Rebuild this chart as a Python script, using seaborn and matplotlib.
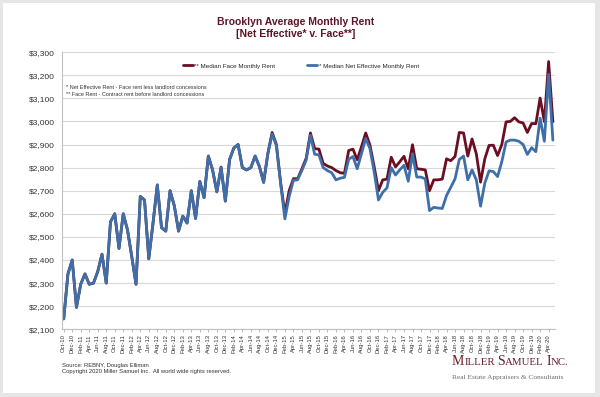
import pandas as pd
import seaborn as sns
import matplotlib
matplotlib.use("Agg")
import matplotlib.pyplot as plt
from matplotlib.patches import Rectangle
from matplotlib.ticker import FuncFormatter

# monthly categories Oct-10 .. May-20
months = pd.date_range("2010-10-01", "2020-05-01", freq="MS").strftime("%b-%y").tolist()

net_rent = [
    2145, 2340, 2400, 2195, 2295, 2340, 2295, 2300, 2350, 2425,
    2300, 2565, 2600, 2450, 2600, 2530, 2415, 2295, 2675, 2660,
    2405, 2560, 2725, 2540, 2525, 2700, 2635, 2525, 2590, 2560,
    2700, 2580, 2740, 2670, 2850, 2790, 2695, 2800, 2655, 2835,
    2885, 2900, 2800, 2790, 2800, 2850, 2805, 2735, 2860, 2945,
    2895, 2730, 2578, 2675, 2745, 2747, 2788, 2832, 2940, 2858,
    2855, 2800, 2787, 2778, 2747, 2754, 2758, 2836, 2848, 2795,
    2860, 2926, 2882, 2780, 2660, 2693, 2712, 2800, 2768, 2790,
    2810, 2741, 2860, 2759, 2759, 2751, 2614, 2628, 2625, 2623,
    2679, 2715, 2751, 2835, 2850, 2747, 2790, 2747, 2633, 2733,
    2786, 2783, 2761, 2826, 2911, 2919, 2919, 2914, 2900, 2857,
    2886, 2869, 3014, 2914, 3204, 2919,
]

face_rent = [
    2145, 2340, 2400, 2195, 2295, 2340, 2295, 2300, 2350, 2425,
    2300, 2565, 2600, 2450, 2600, 2530, 2415, 2295, 2675, 2660,
    2405, 2560, 2725, 2540, 2525, 2700, 2635, 2525, 2590, 2560,
    2700, 2580, 2740, 2670, 2850, 2790, 2695, 2802, 2655, 2835,
    2885, 2900, 2800, 2790, 2800, 2850, 2805, 2737, 2862, 2952,
    2900, 2735, 2600, 2700, 2752, 2752, 2795, 2840, 2950, 2882,
    2880, 2818, 2807, 2800, 2787, 2778, 2775, 2874, 2880, 2834,
    2890, 2950, 2897, 2803, 2700, 2747, 2750, 2845, 2803, 2825,
    2849, 2795, 2899, 2795, 2793, 2790, 2700, 2747, 2747, 2750,
    2838, 2830, 2848, 2952, 2950, 2850, 2924, 2860, 2737, 2838,
    2896, 2897, 2852, 2900, 2998, 3000, 3016, 2998, 2993, 2952,
    2991, 2990, 3101, 2999, 3259, 2999,
]

face_label = "** Median Face Monthly Rent"
net_label = "* Median Net Effective Monthly Rent"
notes = ["* Net Effective Rent - Face rent less landlord concessions",
         "** Face Rent - Contract rent before landlord concessions"]

sns.set_theme(style="white")
plt.rcParams["font.family"] = ["Liberation Sans", "DejaVu Sans"]

n = len(months)
df = pd.DataFrame({
    "idx": list(range(n)) * 2,
    "rent": face_rent + net_rent,
    "series": [face_label] * n + [net_label] * n,
})

W, H = 600, 397
fig = plt.figure(figsize=(6, 3.97), dpi=100)
fig.patch.set_facecolor("#e6e6e6")
fig.add_artist(Rectangle((3 / W, 4 / H), 592 / W, 390 / H, transform=fig.transFigure,
                         facecolor="white", edgecolor="none", zorder=-1))

ax = fig.add_axes([62 / W, (H - 329.3) / H, 493 / W, 277.2 / H])
sns.lineplot(data=df, x="idx", y="rent", hue="series", hue_order=[face_label, net_label],
             palette={face_label: "#6b0e22", net_label: "#3e6fa9"},
             linewidth=2.0, ax=ax)

ax.set_xlim(-0.4, 115.5)
ax.set_ylim(2100, 3300)
ax.set_yticks(range(2100, 3301, 100))
ax.yaxis.set_major_formatter(FuncFormatter(lambda v, p: f"${v:,.0f}"))
ax.set_xticks(range(0, n, 2))
ax.set_xticklabels(months[::2], rotation=90, fontsize=4.2, color="#333333")
ax.tick_params(axis="y", labelsize=6, labelcolor="#333333", length=0, pad=5)
ax.tick_params(axis="x", bottom=True, length=2, width=0.5, color="#a0a0a0", pad=1.5)
ax.set_xlabel("")
ax.set_ylabel("")
ax.yaxis.grid(True, color="#d9d9d9", linewidth=0.8)
ax.set_axisbelow(True)
for s in ["top", "right"]:
    ax.spines[s].set_visible(False)
for s in ["left", "bottom"]:
    ax.spines[s].set_color("#bfbfbf")
    ax.spines[s].set_linewidth(0.8)

handles, labels = ax.get_legend_handles_labels()
ax.legend(handles, labels, loc="center", bbox_to_anchor=(0.484, 0.95), ncol=2,
          frameon=False, fontsize=4.5, handlelength=1.6, handletextpad=0.3,
          columnspacing=5.0)

# title and notes
tcol = "#5c1427"
fig.text(296 / W, (H - 21.6) / H, "Brooklyn Average Monthly Rent", ha="center", va="center",
         fontsize=7.5, fontweight="bold", color=tcol)
fig.text(296 / W, (H - 34) / H, "[Net Effective* v. Face**]", ha="center", va="center",
         fontsize=7.5, fontweight="bold", color=tcol)
fig.text(66 / W, (H - 87.7) / H, notes[0], va="center", fontsize=4, color="#333333")
fig.text(66 / W, (H - 94.4) / H, notes[1], va="center", fontsize=4, color="#333333")

fig.text(62 / W, (H - 365) / H, "Source: REBNY, Douglas Elliman", va="center",
         fontsize=4.2, color="#333333")
fig.text(62 / W, (H - 371.7) / H,
         "Copyright 2020 Miller Samuel Inc.  All world wide rights reserved.",
         va="center", fontsize=4.2, color="#333333")

# logo in small caps built from pieces
renderer = fig.canvas.get_renderer()
x = 452.0
parts = [("M", 10), ("ILLER", 7.8), (" ", 7.8), ("S", 10), ("AMUEL", 7.8), (" ", 7.8),
         ("I", 10), ("NC.", 7.8)]
for txt, fs in parts:
    if txt == " ":
        x += 2.6
        continue
    t = fig.text(x / W, (H - 365) / H, txt, fontsize=fs, family=["Liberation Serif", "DejaVu Serif"],
                 color="#6b1a2b", va="baseline")
    x += t.get_window_extent(renderer).width
fig.text(452.5 / W, (H - 377.3) / H, "Real Estate Appraisers & Consultants", va="center",
         fontsize=5.3, family=["Liberation Serif", "DejaVu Serif"], color="#6d6d6d")

plt.savefig("out.png", dpi=100)
plt.close()
